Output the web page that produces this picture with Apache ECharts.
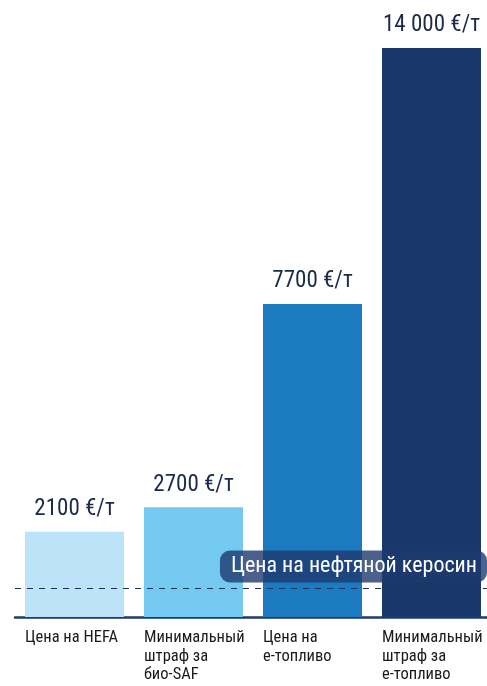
<!DOCTYPE html>
<html><head><meta charset="utf-8">
<script src="https://cdn.jsdelivr.net/npm/echarts@6/dist/echarts.min.js"></script>
<style>html,body{margin:0;padding:0;background:#fff}#c{width:487px;height:686px}</style>
</head><body><div id="c"></div>
<script>
const categories = ['Цена на HEFA', 'Минимальный\nштраф за\nбио-SAF', 'Цена на\nе-топливо', 'Минимальный\nштраф за\nе-топливо'];
const values = [2100, 2700, 7700, 14000];
const valueLabels = ['2100 €/т', '2700 €/т', '7700 €/т', '14 000 €/т'];
const barColors = ['#bde3f8', '#74c9f1', '#1c7bc0', '#18386b'];
const keroseneValue = 700;
const keroseneLabel = 'Цена на нефтяной керосин';

const FONT = '"Roboto Condensed",Roboto,sans-serif';
const chart = echarts.init(document.getElementById('c'));
chart.setOption({
  animation: false,
  grid: {left: 15, width: 476, top: 48, bottom: 69, containLabel: false, outerBoundsMode: 'none'},
  xAxis: {
    type: 'category', data: categories,
    axisLine: {lineStyle: {color: '#1e3a6e', width: 2.5}},
    axisTick: {show: false},
    axisLabel: {
      interval: 0, margin: 12, align: 'center', verticalAlign: 'top', hideOverlap: false,
      formatter: v => v.split('\n').map(s => '{a|' + s + '}').join('\n'),
      rich: {a: {width: 99, align: 'left', fontFamily: FONT, fontSize: 16.5, lineHeight: 18.5, color: '#1a1a1a'}}
    }
  },
  yAxis: {type: 'value', min: 0, max: 14000, show: false, splitLine: {show: false}},
  series: [{
    type: 'bar', barWidth: 99,
    data: values.map((v, i) => ({value: v, itemStyle: {color: barColors[i]}})),
    label: {
      show: true, position: 'top', distance: 11,
      formatter: p => valueLabels[p.dataIndex],
      fontFamily: FONT, fontSize: 23, color: '#1b2a4a'
    },
    markLine: {
      symbol: 'none', silent: true,
      data: [{yAxis: keroseneValue}],
      lineStyle: {type: [6, 6], color: '#1e2f55', width: 1},
      label: {
        show: true, position: 'insideEndTop', formatter: keroseneLabel,
        fontFamily: FONT, fontSize: 22, color: '#fff',
        backgroundColor: 'rgba(30,58,110,0.8)', borderRadius: 10,
        padding: [5, 10, 5, 11], distance: [4, 6]
      }
    }
  }]
});
</script></body></html>
